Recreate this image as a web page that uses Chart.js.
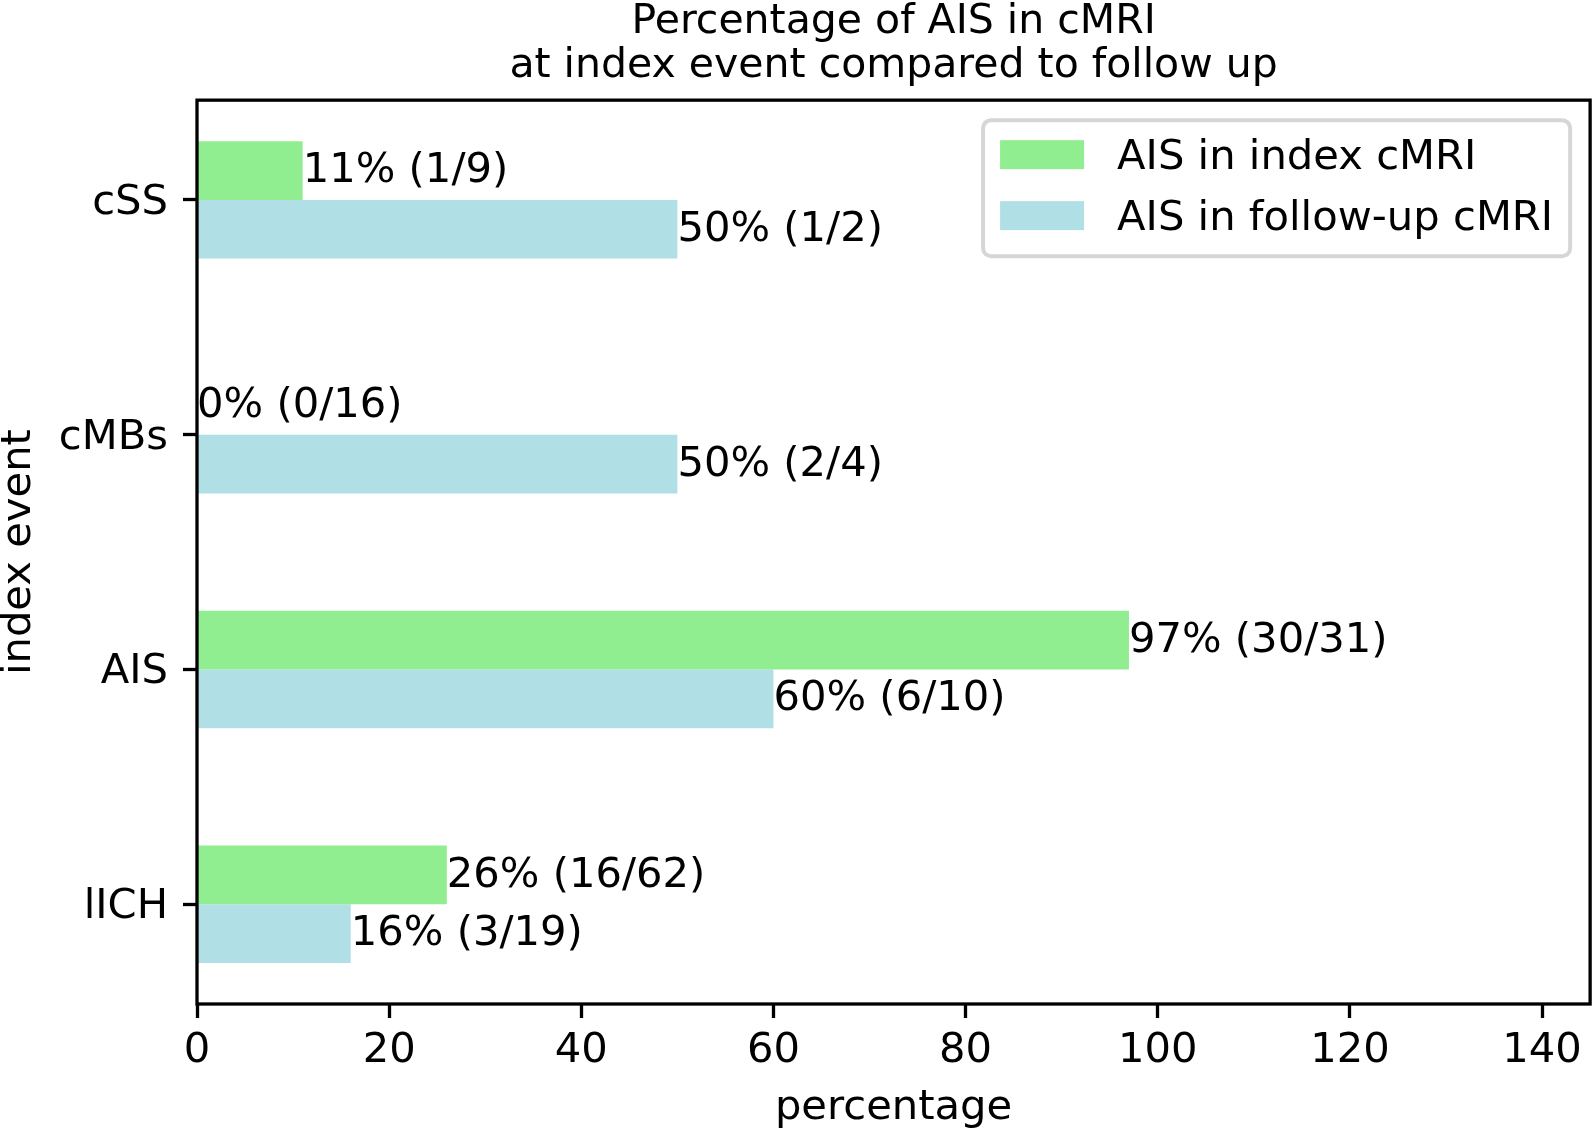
<!DOCTYPE html>
<html><head><meta charset="utf-8">
<script src="https://cdn.jsdelivr.net/npm/chart.js@4.4.1/dist/chart.umd.min.js"></script>
<style>html,body{margin:0;padding:0;background:#fff}canvas{display:block}</style>
</head><body>
<canvas id="c" width="1594" height="1134"></canvas>
<script>
const categories = ['cSS', 'cMBs', 'AIS', 'lICH'];
const indexValues = [11, 0, 97, 26];
const followValues = [50, 50, 60, 16];
const indexLabels = ['11% (1/9)', '0% (0/16)', '97% (30/31)', '26% (16/62)'];
const followLabels = ['50% (1/2)', '50% (2/4)', '60% (6/10)', '16% (3/19)'];
const seriesNames = ['AIS in index cMRI', 'AIS in follow-up cMRI'];
const seriesColors = ['#90EE90', '#B0E0E6'];
const xTicks = [0, 20, 40, 60, 80, 100, 120, 140];
const xRange = [0, 145];
const titleLines = ['Percentage of AIS in cMRI', 'at index event compared to follow up'];
const xTitle = 'percentage';
const yTitle = 'index event';

const FONT = 'DejaVu Sans';
const FS = 41.7;

const frame = {
  id: 'frame',
  afterDatasetsDraw(chart) {
    const a = chart.chartArea, ctx = chart.ctx;
    ctx.save();
    ctx.strokeStyle = '#000';
    ctx.lineWidth = 3.3;
    ctx.strokeRect(a.left, a.top, a.right - a.left, a.bottom - a.top);
    ctx.restore();
  }
};

const barLabels = {
  id: 'barLabels',
  afterDatasetsDraw(chart) {
    const ctx = chart.ctx;
    ctx.save();
    ctx.font = FS + 'px "' + FONT + '"';
    ctx.fillStyle = '#000';
    ctx.textAlign = 'left';
    ctx.textBaseline = 'alphabetic';
    [indexLabels, followLabels].forEach((labels, di) => {
      const meta = chart.getDatasetMeta(di);
      meta.data.forEach((el, i) => {
        ctx.fillText(labels[i], el.x, el.y + 0.28 * FS);
      });
    });
    ctx.restore();
  }
};

const mplLegend = {
  id: 'mplLegend',
  afterDraw(chart) {
    const ctx = chart.ctx, a = chart.chartArea;
    ctx.save();
    ctx.font = FS + 'px "' + FONT + '"';
    const ds = chart.data.datasets;
    const textW = Math.max(...ds.map(d => ctx.measureText(d.label).width));
    const padL = 17, swW = 84, swH = 29, gap = 33, padR = 17, padT = 20, rowStep = 61, padB = 26;
    const w = padL + swW + gap + textW + padR;
    const right = a.right - 20;
    const left = right - w;
    const top = a.top + 20;
    const h = padT + rowStep * (ds.length - 1) + swH + padB;
    const r = 8;
    ctx.beginPath();
    ctx.roundRect(left, top, w, h, r);
    ctx.fillStyle = 'rgba(255,255,255,0.8)';
    ctx.fill();
    ctx.lineWidth = 4;
    ctx.strokeStyle = '#d6d6d6';
    ctx.stroke();
    ds.forEach((d, i) => {
      const sy = top + padT + i * rowStep;
      ctx.fillStyle = d.backgroundColor;
      ctx.fillRect(left + padL, sy, swW, swH);
      ctx.fillStyle = '#000';
      ctx.textAlign = 'left';
      ctx.textBaseline = 'alphabetic';
      ctx.fillText(d.label, left + padL + swW + gap, sy + swH - 0.5);
    });
    ctx.restore();
  }
};

const tickGrid = () => ({
  display: true,
  offset: false,
  drawOnChartArea: false,
  drawTicks: true,
  tickLength: 14,
  tickWidth: 3.3,
  tickColor: '#000'
});

new Chart(document.getElementById('c'), {
  type: 'bar',
  data: {
    datasets: [
      {
        label: seriesNames[0],
        data: indexValues.map((v, i) => ({ x: v, y: i })),
        backgroundColor: seriesColors[0],
        borderWidth: 0
      },
      {
        label: seriesNames[1],
        data: followValues.map((v, i) => ({ x: v, y: i })),
        backgroundColor: seriesColors[1],
        borderWidth: 0
      }
    ]
  },
  options: {
    indexAxis: 'y',
    responsive: false,
    animation: false,
    categoryPercentage: 0.5,
    barPercentage: 1.0,
    layout: { padding: { left: 0, right: 3, top: 0, bottom: 0 } },
    scales: {
      x: {
        type: 'linear',
        position: 'bottom',
        offset: false,
        min: xRange[0],
        max: xRange[1],
        afterBuildTicks(scale) { scale.ticks = xTicks.map(v => ({ value: v })); },
        afterFit(scale) { scale.height = 130; },
        grid: tickGrid(),
        border: { display: false },
        ticks: {
          color: '#000',
          padding: 12,
          maxRotation: 0,
          autoSkip: false,
          font: { family: FONT, size: FS, lineHeight: 1 }
        },
        title: {
          display: true,
          text: xTitle,
          color: '#000',
          padding: { top: 0, bottom: 5 },
          font: { family: FONT, size: FS, lineHeight: 1 }
        }
      },
      y: {
        type: 'linear',
        position: 'left',
        offset: false,
        reverse: true,
        min: -0.425,
        max: categories.length - 1 + 0.425,
        afterBuildTicks(scale) { scale.ticks = categories.map((c, i) => ({ value: i })); },
        afterFit(scale) { scale.width = 197; },
        grid: tickGrid(),
        border: { display: false },
        ticks: {
          color: '#000',
          padding: 15,
          labelOffset: 3,
          autoSkip: false,
          font: { family: FONT, size: FS, lineHeight: 1 },
          callback: (v) => categories[v]
        },
        title: {
          display: true,
          text: yTitle,
          color: '#000',
          padding: { top: 0, bottom: 0 },
          font: { family: FONT, size: FS, lineHeight: 0.9 }
        }
      }
    },
    plugins: {
      legend: { display: false },
      tooltip: { enabled: false },
      title: {
        display: true,
        text: titleLines,
        color: '#000',
        fullSize: false,
        padding: { top: 0, bottom: 12 },
        font: { family: FONT, size: 41, weight: 'normal', lineHeight: 1.075 }
      }
    }
  },
  plugins: [frame, barLabels, mplLegend]
});
</script>
</body></html>
